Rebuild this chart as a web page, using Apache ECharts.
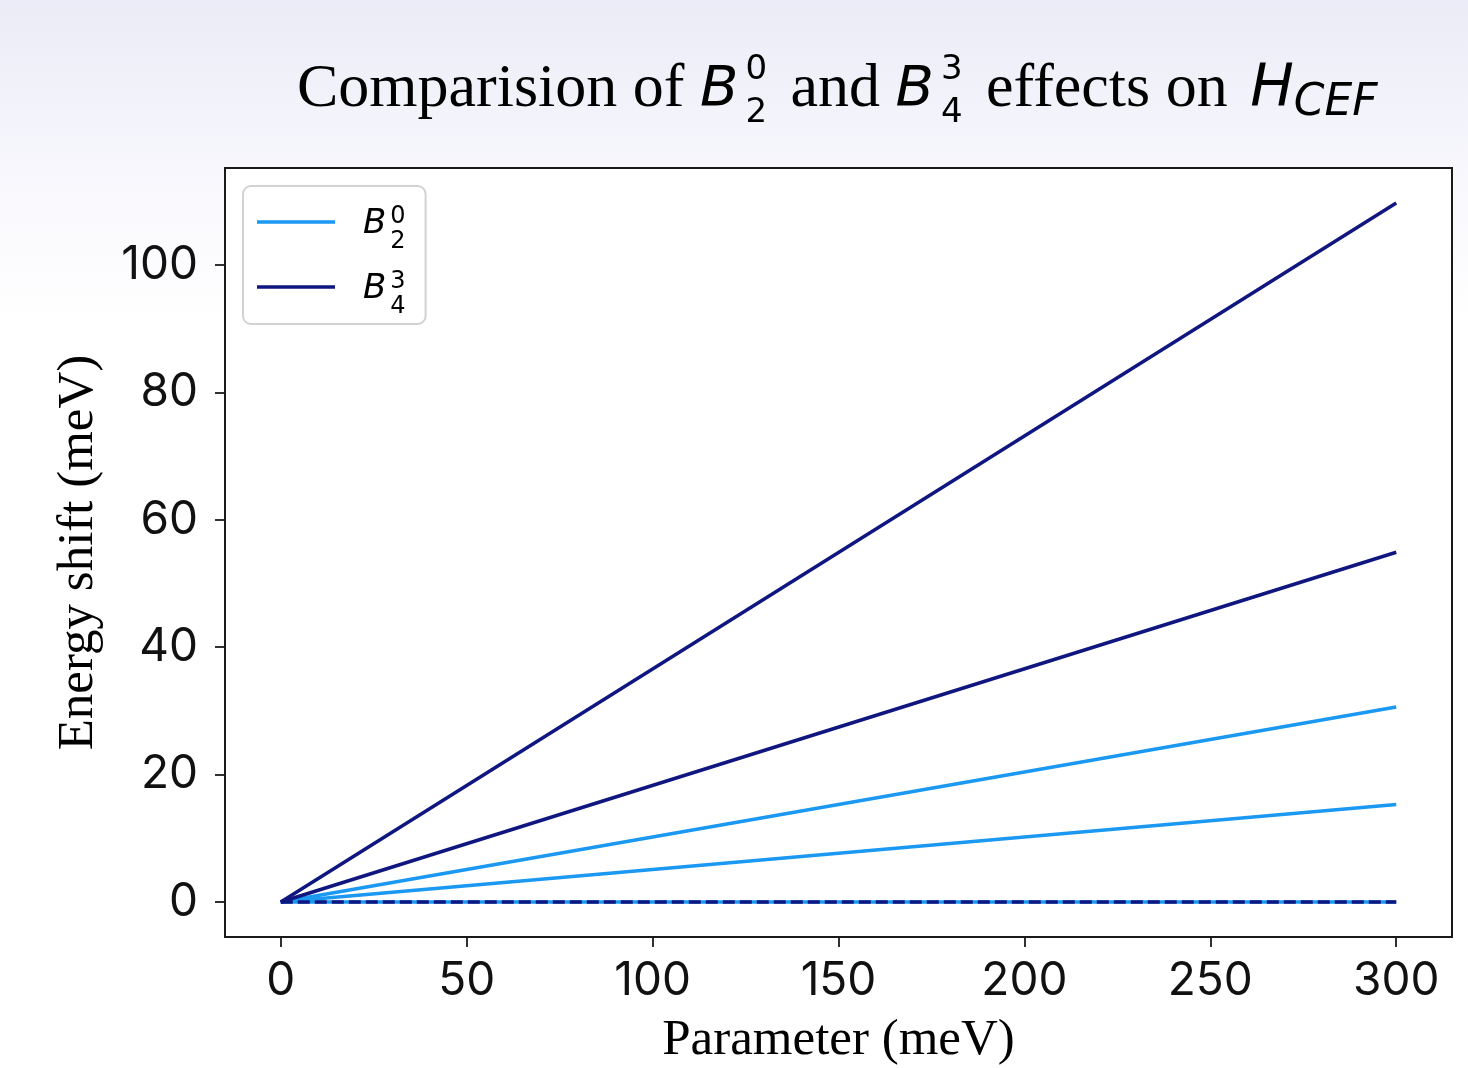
<!DOCTYPE html>
<html>
<head>
<meta charset="utf-8">
<script src="https://cdn.jsdelivr.net/npm/echarts@6/dist/echarts.min.js"></script>
<style>
  html, body { margin: 0; padding: 0; }
  #chart { width: 1468px; height: 1068px; }
</style>
</head>
<body>
<div id="chart"></div>
<script>
// ---- data ----
const params = [0, 300];                 // parameter (meV), start and end of each level line
const b20Zero = [0, 0];                  // B_2^0 levels
const b20Low = [0, 15.3];
const b20High = [0, 30.6];
const b43Zero = [0, 0];                  // B_4^3 levels
const b43Low = [0, 54.9];
const b43High = [0, 109.7];
const xTicks = [0, 50, 100, 150, 200, 250, 300];
const yTicks = [0, 20, 40, 60, 80, 100];

const colB20 = '#1a98f2';
const colB43 = '#10167f';

function pairs(ys) { return params.map((x, i) => [x, ys[i]]); }
function lineSeries(name, ys, color, dashed) {
  return {
    name: name, type: 'line', data: pairs(ys), symbol: 'none', silent: true,
    lineStyle: { color: color, width: 3.5, type: dashed ? [12, 5] : 'solid' },
    itemStyle: { color: color }
  };
}

const chart = echarts.init(document.getElementById('chart'), null, { renderer: 'canvas' });

const sans = 'DejaVu Sans';
const serif = 'Liberation Serif';

const option = {
  animation: false,
  backgroundColor: {
    type: 'linear', x: 0, y: 0, x2: 0, y2: 1,
    colorStops: [
      { offset: 0, color: '#ececf8' },
      { offset: 0.08, color: '#f1f1fa' },
      { offset: 0.17, color: '#f8f8fd' },
      { offset: 0.3, color: '#ffffff' },
      { offset: 1, color: '#ffffff' }
    ]
  },
  title: {
    left: 297, top: 50, padding: 0,
    text: '{s|Comparision of }{m|B}{sp|0}{sb|2}{s| and }{m|B}{sp|3}{sb|4}{s| effects on }{g| }{h|H}{sbl|CEF}',
    textStyle: {
      fontWeight: 'normal',
      rich: {
        s: { fontFamily: serif, fontWeight: 'normal', fontSize: 62, lineHeight: 80, color: '#000', verticalAlign: 'middle' },
        g: { fontFamily: serif, fontWeight: 'normal', fontSize: 10, lineHeight: 80, width: 7, color: 'rgba(0,0,0,0)' },
        m: { fontFamily: sans, fontWeight: 'normal', fontStyle: 'italic', fontSize: 56, lineHeight: 80, color: '#000', verticalAlign: 'middle', padding: [0, 7, 0, 0] },
        h: { fontFamily: sans, fontWeight: 'normal', fontStyle: 'italic', fontSize: 58, lineHeight: 80, color: '#000', verticalAlign: 'middle' },
        sp: { fontFamily: sans, fontWeight: 'normal', fontSize: 34, lineHeight: 40, color: '#000', verticalAlign: 'top', width: 0, align: 'left', padding: [3, 0, 0, 0] },
        sb: { fontFamily: sans, fontWeight: 'normal', fontSize: 34, lineHeight: 32, color: '#000', verticalAlign: 'bottom', padding: [0, 8, 0, 0] },
        sbl: { fontFamily: sans, fontWeight: 'normal', fontStyle: 'italic', fontSize: 44, lineHeight: 50, color: '#000', verticalAlign: 'bottom', padding: [0, 0, 4, 0] }
      }
    }
  },
  legend: {
    left: 243, top: 186, orient: 'vertical',
    padding: [11, 20, 5, 14],
    itemGap: 8, itemWidth: 78, itemHeight: 3.5,
    icon: 'rect',
    backgroundColor: '#ffffff', borderColor: '#d2d2d2', borderWidth: 2, borderRadius: 8,
    data: ['B20', 'B43'],
    formatter: function (name) {
      return name === 'B20' ? '{b|B}{sp|0}{sb|2}' : '{b|B}{sp|3}{sb|4}';
    },
    textStyle: {
      rich: {
        b: { fontFamily: sans, fontStyle: 'italic', fontSize: 34, lineHeight: 50, color: '#000', padding: [4, 4, 0, 23] },
        sp: { fontFamily: sans, fontSize: 24, lineHeight: 20, color: '#000', verticalAlign: 'top', width: 0, align: 'left', padding: [8, 0, 0, 0] },
        sb: { fontFamily: sans, fontSize: 24, lineHeight: 12, color: '#000', verticalAlign: 'top', padding: [33, 0, 0, 0] }
      }
    }
  },
  grid: {
    left: 225, right: 16, top: 168, bottom: 131,
    outerBoundsMode: 'none', containLabel: false,
    show: true, backgroundColor: '#ffffff', borderColor: '#1a1a1a', borderWidth: 2
  },
  xAxis: {
    type: 'value', min: -15, max: 315,
    name: 'Parameter (meV)', nameLocation: 'middle', nameGap: 78,
    nameTextStyle: { fontFamily: serif, fontSize: 51, lineHeight: 51, color: '#000' },
    axisLine: { show: true, onZero: false, lineStyle: { color: '#1a1a1a', width: 2 } },
    axisTick: { show: true, inside: false, length: 10, customValues: xTicks, lineStyle: { color: '#1a1a1a', width: 1.8 } },
    axisLabel: { customValues: xTicks, margin: 21, fontFamily: 'Inter', fontSize: 46, color: '#111' },
    splitLine: { show: false }
  },
  yAxis: {
    type: 'value', min: -5.49, max: 115.2,
    name: 'Energy shift (meV)', nameLocation: 'middle', nameGap: 121,
    nameTextStyle: { fontFamily: serif, fontSize: 51, lineHeight: 51, color: '#000' },
    axisLine: { show: true, onZero: false, lineStyle: { color: '#1a1a1a', width: 2 } },
    axisTick: { show: true, inside: false, length: 10, customValues: yTicks, lineStyle: { color: '#1a1a1a', width: 1.8 } },
    axisLabel: { customValues: yTicks, margin: 27, fontFamily: 'Inter', fontSize: 46, color: '#111' },
    splitLine: { show: false }
  },
  series: [
    lineSeries('B20', b20Zero, colB20, false),
    lineSeries('B20', b20Low, colB20, false),
    lineSeries('B20', b20High, colB20, false),
    lineSeries('B43', b43Low, colB43, false),
    lineSeries('B43', b43High, colB43, false),
    lineSeries('B43', b43Zero, colB43, true)
  ]
};

chart.setOption(option);
</script>
</body>
</html>
